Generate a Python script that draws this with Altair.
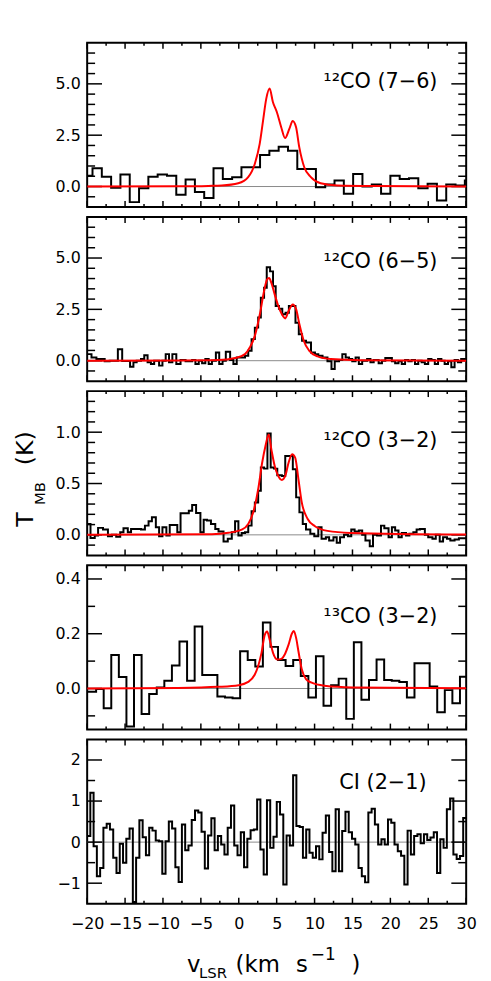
import altair as alt
import pandas as pd

FONT = "DejaVu Sans"
W, H = 383, 166

X_DOMAIN = [-20, 30]
X_MAJOR = [-20, -15, -10, -5, 0, 5, 10, 15, 20, 25, 30]
X_MINOR = [-17.5, -12.5, -7.5, -2.5, 2.5, 7.5, 12.5, 17.5, 22.5, 27.5]

# ---------------- 12CO (7-6): uniform channels (centre of first, width) -------------
CO76_C0, CO76_DV = -19.91, 1.228
CO76_T = [0.53, 0.89, 0.48, -0.06, 0.58, -0.76, -0.08, 0.48, 0.58, 0.53,
          -0.40, 0.34, -0.27, -0.56, 0.89, 0.37, 0.45, 0.94, 0.94, 1.53,
          1.74, 1.94, 1.74, 0.85, 0.85, -0.03, 0.10, 0.29, -0.35, 0.61,
          0.00, 0.10, -0.35, 0.53, 0.37, 0.40, -0.08, 0.13, -0.68, 0.10,
          0.05, 0.29]
CO76_MODEL_V = [-20, -8, -4, -2.24, -0.07, 1.24, 2.11, 2.76, 3.2, 3.63, 4.07, 4.5,
                5.02, 5.59, 6.11, 6.68, 7.11, 7.55, 7.98, 8.64, 9.51, 10.8, 13.0, 18, 30]
CO76_MODEL_T = [0.0, 0.01, 0.03, 0.05, 0.16, 0.46, 1.1, 2.08, 3.2, 4.28, 4.77, 4.12,
                3.63, 2.9, 2.36, 2.82, 3.19, 2.9, 1.92, 0.94, 0.46, 0.16, 0.05, 0.02, 0.0]

# ---------------- 12CO (6-5): channel edges + values -------------
CO65_EDGES = [-20.00, -19.43, -18.78, -17.69, -17.04, -15.95, -15.38, -14.34, -13.90, -13.47,
              -12.90, -12.47, -12.03, -11.59, -11.16, -10.51, -10.07, -9.64, -9.20, -8.76,
              -8.24, -7.68, -7.02, -6.15, -5.72, -5.28, -4.84, -4.41, -3.97, -3.54,
              -3.02, -2.58, -2.14, -1.71, -1.14, -0.71, -0.27, 0.82, 1.25, 1.69,
              2.12, 2.56, 2.91, 3.34, 3.69, 4.13, 4.52, 4.87, 5.30, 5.74,
              6.17, 6.61, 7.04, 7.48, 7.92, 8.35, 8.87, 9.53, 10.05, 10.49,
              11.05, 11.70, 12.23, 12.66, 13.23, 13.66, 14.10, 14.54, 14.97, 15.41,
              15.84, 16.28, 16.93, 17.37, 17.80, 18.45, 18.89, 19.33, 20.20, 20.63,
              21.07, 21.50, 21.94, 22.37, 22.81, 23.25, 23.68, 24.12, 24.55, 24.99,
              25.42, 25.86, 26.29, 26.73, 27.16, 27.60, 28.04, 28.47, 28.91, 29.34, 30.0]
CO65_T = [0.32, 0.16, 0.08, -0.03, 0.00, 0.56, -0.02, -0.29, -0.08, 0.00,
          0.08, 0.27, -0.08, -0.16, 0.00, -0.24, 0.00, 0.32, -0.08, 0.32,
          -0.16, 0.03, -0.03, 0.03, -0.16, 0.00, -0.13, 0.08, -0.16, 0.00,
          0.40, -0.16, 0.00, 0.44, 0.03, -0.16, 0.16, 0.24, 0.48, 1.05,
          1.61, 2.10, 3.06, 3.55, 4.55, 4.35, 3.63, 2.66, 2.53, 2.26,
          2.34, 2.66, 2.66, 1.85, 1.29, 0.97, 0.89, 0.40, 0.32, 0.24,
          0.16, -0.03, -0.40, -0.03, 0.03, 0.32, 0.16, 0.08, -0.03, 0.16,
          -0.16, 0.00, 0.08, -0.08, 0.03, -0.13, 0.00, 0.13, -0.03, -0.13,
          -0.03, -0.16, 0.03, -0.03, 0.03, -0.16, 0.00, -0.08, -0.16, 0.08,
          0.03, -0.16, 0.08, 0.00, -0.16, -0.03, -0.32, 0.03, -0.08, 0.08]
CO65_MODEL_V = [-20, -8, -2.67, -0.49, 0.82, 1.47, 2.12, 2.78, 3.34, 3.73, 4.0, 4.30,
                4.74, 5.17, 5.69, 6.13, 6.57, 7.13, 7.57, 8.0, 8.57, 9.31, 10.4, 12.14, 16.06, 30]
CO65_MODEL_T = [0.0, 0.01, 0.03, 0.13, 0.32, 0.65, 1.21, 2.26, 3.39, 3.95, 4.03, 3.79,
                3.23, 2.71, 2.26, 2.06, 2.42, 2.74, 2.5, 1.77, 0.97, 0.48, 0.21, 0.08, 0.02, 0.0]

# ---------------- 12CO (3-2) -------------
CO32_EDGES = [-20.00, -19.56, -19.00, -18.56, -17.91, -17.26, -16.73, -16.17, -15.64, -15.21,
              -14.64, -14.21, -12.90, -12.38, -11.90, -11.46, -10.94, -10.51, -10.07, -9.55,
              -9.11, -8.11, -7.68, -6.59, -6.15, -5.63, -5.06, -4.63, -4.19, -3.67,
              -3.10, -2.67, -2.01, -1.45, -0.92, -0.49, -0.05, 0.38, 0.82, 1.25,
              1.69, 2.12, 2.56, 2.91, 3.34, 3.78, 4.21, 4.65, 5.08, 5.69,
              6.13, 6.61, 7.13, 7.57, 8.00, 8.44, 8.87, 9.44, 9.96, 10.49,
              10.92, 11.49, 11.92, 12.49, 12.92, 13.36, 13.88, 14.40, 14.84, 15.28,
              15.84, 16.28, 16.71, 17.28, 17.71, 18.24, 18.76, 19.20, 19.76, 20.20,
              20.63, 21.07, 21.50, 22.07, 22.51, 23.03, 23.46, 23.90, 24.55, 24.99,
              25.55, 25.99, 26.51, 26.95, 27.47, 27.91, 28.47, 29.04, 30.0]
CO32_T = [0.106, -0.030, -0.006, 0.068, 0.052, -0.013, 0.000, -0.019, 0.026, 0.065,
          0.026, 0.058, 0.052, 0.090, 0.132, 0.171, 0.074, -0.013, 0.074, -0.006,
          0.097, 0.026, 0.210, 0.235, 0.290, 0.213, 0.026, 0.148, 0.139, 0.106,
          0.058, 0.032, -0.065, -0.039, 0.026, 0.132, -0.006, 0.019, 0.026, 0.090,
          0.229, 0.316, 0.429, 0.655, 0.645, 0.987, 0.655, 0.645, 0.581, 0.574,
          0.768, 0.768, 0.639, 0.365, 0.219, 0.106, 0.052, 0.010, -0.013, 0.074,
          -0.039, -0.023, -0.055, -0.023, -0.077, -0.023, 0.000, -0.013, 0.052, 0.032,
          0.042, 0.000, -0.055, -0.110, 0.000, -0.006, 0.090, 0.065, -0.023, 0.074,
          0.042, -0.023, 0.019, -0.006, 0.010, 0.026, 0.052, 0.058, 0.000, -0.023,
          -0.039, 0.000, -0.065, -0.023, -0.039, -0.055, -0.045, -0.032]
CO32_MODEL_V = [-20, -3.54, -1.36, 0.38, 1.25, 1.91, 2.56, 3.08, 3.52, 3.95, 4.30, 4.74,
                5.17, 5.69, 6.13, 6.57, 7.04, 7.44, 7.87, 8.31, 9.09, 10.05, 11.70, 14.75, 30]
CO32_MODEL_T = [0.002, 0.006, 0.02, 0.05, 0.106, 0.22, 0.445, 0.70, 0.865, 0.977, 0.832, 0.671,
                0.58, 0.535, 0.574, 0.703, 0.784, 0.752, 0.542, 0.316, 0.155, 0.084, 0.039, 0.019, 0.003]

# ---------------- 13CO (3-2): uniform channels -------------
C13_C0, C13_DV = -20.32, 1.0
C13_T = [-0.012, -0.012, -0.002, -0.072, 0.122, 0.042, -0.139, 0.122, -0.093, -0.020,
         0.004, 0.028, 0.084, 0.172, 0.028, 0.226, 0.049, 0.049, -0.029, -0.033,
         -0.036, 0.136, 0.104, 0.080, 0.241, 0.152, 0.104, 0.082, 0.104, 0.046,
         -0.033, 0.118, -0.063, 0.012, 0.036, -0.111, 0.169, -0.041, 0.031, 0.106,
         0.031, 0.028, 0.024, -0.033, 0.092, 0.092, 0.007, -0.087, -0.006, -0.054,
         0.043]
C13_MODEL_V = [-20, -8, -2.7, 0, 1.25, 2.1, 2.56, 3.0, 3.43, 3.74, 4.08, 4.52, 5.08,
               5.6, 6.13, 6.57, 7.0, 7.26, 7.57, 7.87, 8.31, 8.87, 9.53, 11.3, 15, 30]
C13_MODEL_T = [0.0, 0.002, 0.006, 0.012, 0.024, 0.05, 0.082, 0.13, 0.196, 0.208, 0.178, 0.13, 0.106,
               0.108, 0.128, 0.16, 0.2, 0.21, 0.184, 0.136, 0.07, 0.034, 0.022, 0.01, 0.004, 0.001]

# ---------------- CI (2-1): uniform channels -------------
CI_C0, CI_DV = -19.80, 0.4315
CI_T = [0.15, 1.20, -0.10, -0.83, -0.63, 0.35, 0.45, 0.31, -0.38, -0.75,
        -0.04, -0.50, 0.08, 0.33, -1.46,
        -0.38, 0.53, 0.12, -0.32, 0.35, 0.28, 0.04, 0.02, -0.77, 0.02,
        0.50, 0.33, -0.61, -0.97, 0.43, -0.20, -0.08, 0.54, 0.77, 0.72,
        0.25, -0.64, 0.16, 0.58, -0.20, 0.15, -0.06, -0.30, 0.35, 0.89,
        -0.08, -0.32, 0.24, -0.61, 0.08, 0.29, 0.31, 1.04, -0.18, -0.79,
        1.02, -0.14, 0.13, 0.98, 0.67, -1.03, 0.16, -0.08, 1.63, 0.39,
        0.37, -0.38, 0.31, -0.26, -0.38, -0.10, -0.42, 0.23, 0.65, -0.24,
        -0.71, 0.80, -0.71, 0.27, 0.74, 0.24, 0.08, -0.06, -0.63, -0.83,
        -0.98, 0.72, 0.81, 0.43, -0.06, 0.07, -0.06, 0.55, 0.47, -0.06,
        -0.22, -0.33, -1.03, 0.28, -0.30, 0.15, 0.19, -0.03, 0.19, 0.05,
        0.11, 0.24, -0.75, 0.07, -0.14, 0.80, 1.06, -0.30, -0.41, -0.34,
        0.59]

LABELS = ["\u00b9\u00b2CO (7\u22126)", "\u00b9\u00b2CO (6\u22125)", "\u00b9\u00b2CO (3\u22122)",
          "\u00b9\u00b3CO (3\u22122)", "CI (2\u22121)"]


def uniform_steps(c0, dv, vals):
    edges = [round(c0 - dv / 2 + i * dv, 4) for i in range(len(vals) + 1)]
    return pd.DataFrame({"v": edges, "T": list(vals) + [vals[-1]]})


def edge_steps(edges, vals):
    return pd.DataFrame({"v": edges, "T": list(vals) + [vals[-1]]})


def text_layer(s, x, y, size, angle=0, align="left", baseline="alphabetic"):
    kw = dict(align=align, baseline=baseline, font=FONT, fontSize=size, color="black")
    if angle:
        kw["angle"] = angle
    return alt.Chart(pd.DataFrame({"s": [s]})).mark_text(**kw).encode(
        x=alt.value(x), y=alt.value(y), text="s:N")


def panel(hist, model, ydom, ymaj, ymin, yfmt, label, label_x, label_y, bottom=False, extra=()):
    xs = alt.Scale(domain=X_DOMAIN, nice=False, zero=False)
    ys = alt.Scale(domain=ydom, nice=False, zero=False)
    if bottom:
        xaxis = alt.Axis(values=X_MAJOR, format="d", ticks=False, tickSize=0, domain=False,
                         grid=False, labelFontSize=16, labelPadding=12, title=None,
                         labelFont=FONT, labelColor="black", labelFlush=False)
    else:
        xaxis = None
    yaxis = alt.Axis(values=ymaj, format=yfmt, ticks=False, tickSize=0, domain=False,
                     grid=False, labelFontSize=16, labelPadding=7, title=None,
                     labelFont=FONT, labelColor="black", labelFlush=False)

    def X(f):
        return alt.X(f, scale=xs, axis=xaxis)

    def Y(f):
        return alt.Y(f, scale=ys, axis=yaxis)

    def yt(vals, ln):
        base = alt.Chart(pd.DataFrame({"T": vals})).mark_rule(color="black", strokeWidth=1.5)
        return [base.encode(y=Y("T:Q"), x=alt.value(0), x2=alt.value(ln)),
                base.encode(y=Y("T:Q"), x=alt.value(W - ln), x2=alt.value(W))]

    def xt(vals, ln):
        base = alt.Chart(pd.DataFrame({"v": vals})).mark_rule(color="black", strokeWidth=1.5)
        return [base.encode(x=X("v:Q"), y=alt.value(H), y2=alt.value(H - ln)),
                base.encode(x=X("v:Q"), y=alt.value(0), y2=alt.value(ln))]

    zero = alt.Chart(pd.DataFrame({"T": [0.0]})).mark_rule(
        color="#8a8a8a", strokeWidth=1).encode(y=Y("T:Q"))
    layers = [zero] + yt(ymaj, 15) + yt(ymin, 8) + xt(X_MAJOR, 6) + xt(X_MINOR, 3)
    layers.append(alt.Chart(hist).mark_line(
        interpolate="step-after", color="black", strokeWidth=2, clip=True).encode(
        x=X("v:Q"), y=Y("T:Q")))
    if model is not None:
        layers.append(alt.Chart(model).mark_line(
            interpolate="monotone", color="#ff0000", strokeWidth=2, clip=True).encode(
            x=X("v:Q"), y=Y("T:Q")))
    layers.append(text_layer(label, label_x, label_y, 21, align="right"))
    layers += list(extra)
    return alt.layer(*layers).properties(width=W, height=H)


p1 = panel(uniform_steps(CO76_C0, CO76_DV, CO76_T),
           pd.DataFrame({"v": CO76_MODEL_V, "T": CO76_MODEL_T}),
           [-1, 7], [0, 2.5, 5.0], [-0.5, 0.5, 1, 1.5, 2, 3, 3.5, 4, 4.5, 5.5, 6, 6.5],
           ".1f", LABELS[0], 354, 46)
p2 = panel(edge_steps(CO65_EDGES, CO65_T),
           pd.DataFrame({"v": CO65_MODEL_V, "T": CO65_MODEL_T}),
           [-1, 7], [0, 2.5, 5.0], [-0.5, 0.5, 1, 1.5, 2, 3, 3.5, 4, 4.5, 5.5, 6, 6.5],
           ".1f", LABELS[1], 354, 52)

ytitle = [
    text_layer("T", -55, 137, 24, angle=270),
    text_layer("MB", -43, 115, 15, angle=270),
    text_layer("(K)", -55, 75, 24, angle=270),
]
p3 = panel(edge_steps(CO32_EDGES, CO32_T),
           pd.DataFrame({"v": CO32_MODEL_V, "T": CO32_MODEL_T}),
           [-0.2, 1.4], [0, 0.5, 1.0], [-0.1, 0.1, 0.2, 0.3, 0.4, 0.6, 0.7, 0.8, 0.9, 1.1, 1.2, 1.3],
           ".1f", LABELS[2], 354, 56, extra=ytitle)
p4 = panel(uniform_steps(C13_C0, C13_DV, C13_T),
           pd.DataFrame({"v": C13_MODEL_V, "T": C13_MODEL_T}),
           [-0.15, 0.45], [0, 0.2, 0.4], [-0.1, 0.1, 0.3],
           ".1f", LABELS[3], 354, 58)

xtitle = [
    text_layer("v", 101, H + 69, 23),
    text_layer("LSR", 113, H + 75, 15),
    text_layer("(km", 150, H + 69, 23),
    text_layer("s", 211, H + 69, 23),
    text_layer("\u22121", 226, H + 57, 17),
    text_layer(")", 267, H + 69, 23),
]
p5 = panel(uniform_steps(CI_C0, CI_DV, CI_T), None,
           [-1.5, 2.5], [-1, 0, 1, 2], [-0.5, 0.5, 1.5],
           "d", LABELS[4], 343, 50, bottom=True, extra=xtitle)

chart = alt.vconcat(p1, p2, p3, p4, p5, spacing=6).properties(
    padding={"left": 5, "top": 28, "right": 5, "bottom": 0},
    background="white",
).configure_view(stroke="black", strokeWidth=2)

chart.save("out.html", embed_options={"renderer": "svg", "actions": False})
